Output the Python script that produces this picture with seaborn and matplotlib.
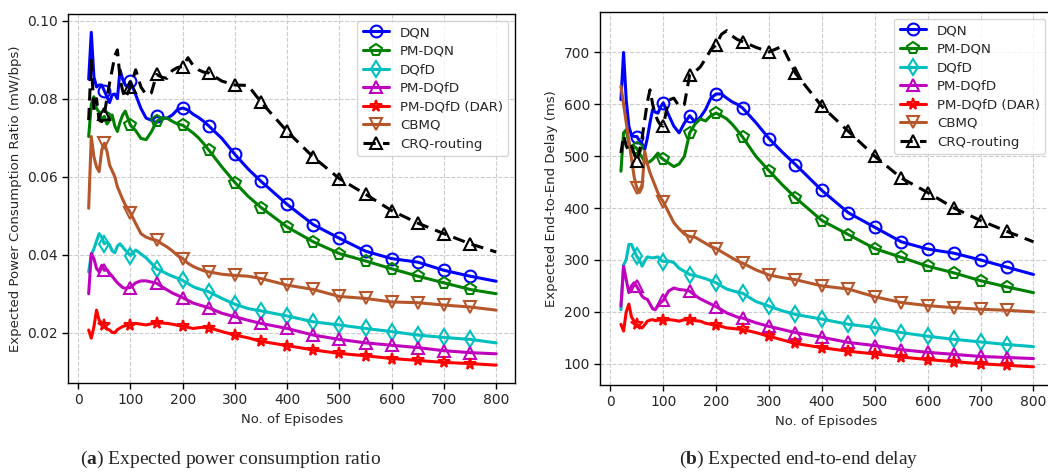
import numpy as np
import pandas as pd
import matplotlib
matplotlib.use("Agg")
import matplotlib.pyplot as plt
import seaborn as sns

# Episode grid shared by every curve
episodes = [20, 25, 30, 35, 40, 45, 50, 55, 60, 65, 70, 75, 80, 85, 90, 95, 100,
            110, 120, 130, 140, 150, 160, 170, 180, 190, 200, 210, 220, 230, 240, 250,
            275, 300, 325, 350, 400, 450, 500, 550, 600, 650, 700, 750, 800]
marker_episodes = [50, 100, 150, 200, 250, 300, 350, 400, 450, 500, 550, 600, 650, 700, 750]

labels = ["DQN", "PM-DQN", "DQfD", "PM-DQfD", "PM-DQfD (DAR)", "CBMQ", "CRQ-routing"]

# (a) Expected power consumption ratio (mW/bps)
power_dqn = [0.085, 0.097, 0.0856, 0.083, 0.0835, 0.0835, 0.082, 0.0805, 0.079, 0.081, 0.0812,
             0.080, 0.0874, 0.085, 0.0835, 0.083, 0.0844, 0.081, 0.0775, 0.075, 0.0745, 0.0755,
             0.075, 0.075, 0.0758, 0.0772, 0.0776, 0.0771, 0.076, 0.0752, 0.0742, 0.073,
             0.0698, 0.0657, 0.062, 0.0588, 0.0529, 0.0477, 0.0442, 0.0409, 0.039, 0.0381,
             0.036, 0.0345, 0.0332]
power_pm_dqn = [0.0703, 0.0785, 0.0805, 0.0775, 0.0765, 0.0745, 0.0755, 0.0735, 0.0745, 0.0758,
                0.073, 0.0716, 0.074, 0.0758, 0.0768, 0.075, 0.0732, 0.0718, 0.0698, 0.0695,
                0.0715, 0.0742, 0.075, 0.075, 0.0742, 0.0735, 0.0732, 0.0722, 0.0712, 0.070,
                0.0685, 0.0668, 0.0625, 0.0585, 0.055, 0.0521, 0.0471, 0.0433, 0.0403, 0.0384,
                0.0364, 0.0345, 0.0328, 0.0311, 0.0300]
power_dqfd = [0.0356, 0.040, 0.0415, 0.0435, 0.0454, 0.0445, 0.0428, 0.0432, 0.0425, 0.041,
              0.0405, 0.0422, 0.0428, 0.042, 0.0412, 0.0405, 0.0398, 0.0412, 0.0402, 0.0392,
              0.0378, 0.0364, 0.0358, 0.0351, 0.0345, 0.034, 0.0334, 0.0326, 0.0318, 0.0313,
              0.0309, 0.0305, 0.0288, 0.0273, 0.0262, 0.0256, 0.0243, 0.0228, 0.022, 0.0211,
              0.0203, 0.0194, 0.0188, 0.0183, 0.0174]
power_pm_dqfd = [0.030, 0.0403, 0.039, 0.0365, 0.0356, 0.0373, 0.036, 0.0362, 0.0352, 0.0345,
                 0.0336, 0.0328, 0.0322, 0.0316, 0.0314, 0.0315, 0.0316, 0.0328, 0.0333, 0.0333,
                 0.033, 0.0327, 0.0318, 0.031, 0.0302, 0.0296, 0.029, 0.0283, 0.0276, 0.0272,
                 0.0268, 0.0264, 0.025, 0.0241, 0.0232, 0.0224, 0.0211, 0.0194, 0.0183, 0.0174,
                 0.0168, 0.0162, 0.0154, 0.0149, 0.0146]
power_dar = [0.0207, 0.0186, 0.0215, 0.0258, 0.0232, 0.0225, 0.022, 0.021, 0.0207, 0.0201,
             0.020, 0.0208, 0.0212, 0.0216, 0.0218, 0.0221, 0.022, 0.0224, 0.0222, 0.022,
             0.0223, 0.0226, 0.0225, 0.0224, 0.0222, 0.0219, 0.0217, 0.0214, 0.0211, 0.0213,
             0.0214, 0.0213, 0.0203, 0.0194, 0.0187, 0.0178, 0.0167, 0.0156, 0.0147, 0.0141,
             0.0134, 0.0129, 0.0124, 0.0121, 0.0117]
power_cbmq = [0.0519, 0.0703, 0.0651, 0.0625, 0.0613, 0.0668, 0.0686, 0.0665, 0.063, 0.0615,
              0.060, 0.0574, 0.0558, 0.0542, 0.0528, 0.0518, 0.0507, 0.048, 0.0454, 0.0445,
              0.044, 0.0437, 0.0428, 0.042, 0.041, 0.0398, 0.039, 0.0378, 0.037, 0.0364,
              0.0359, 0.0356, 0.035, 0.0347, 0.0345, 0.0339, 0.0322, 0.0311, 0.0293, 0.0288,
              0.0279, 0.0277, 0.0271, 0.0266, 0.0258]
power_crq = [0.0745, 0.0899, 0.077, 0.080, 0.0745, 0.0741, 0.076, 0.0801, 0.084, 0.0874,
             0.091, 0.0925, 0.0852, 0.082, 0.0801, 0.0815, 0.083, 0.0874, 0.083, 0.081,
             0.0815, 0.0862, 0.0855, 0.0852, 0.0872, 0.088, 0.0882, 0.0905, 0.0885, 0.0874,
             0.0868, 0.0866, 0.0845, 0.0835, 0.0834, 0.0791, 0.0716, 0.065, 0.0595, 0.0555,
             0.0513, 0.0481, 0.0454, 0.0428, 0.0407]

# (b) Expected end-to-end delay (ms)
delay_dqn = [609, 700, 609, 558, 540, 538, 538, 530, 524, 513, 535, 565, 590, 585, 583, 595, 603,
             580, 558, 545, 564, 578, 566, 575, 590, 612, 620, 620, 612, 605, 600, 593,
             565, 534, 508, 484, 434, 391, 363, 335, 321, 313, 300, 286, 272]
delay_pm_dqn = [471, 545, 551, 526, 508, 519, 515, 505, 498, 490, 487, 490, 494, 500, 506, 498,
                494, 487, 480, 485, 500, 545, 562, 572, 568, 578, 583, 578, 572, 562, 550, 537,
                500, 472, 445, 420, 376, 349, 322, 305, 288, 275, 260, 248, 237]
delay_dqfd = [204, 290, 301, 330, 330, 318, 307, 300, 288, 298, 306, 305, 304, 305, 306, 300, 297,
              298, 295, 284, 278, 272, 270, 267, 264, 260, 256, 250, 244, 241, 238, 236,
              220, 211, 202, 195, 186, 176, 170, 160, 153, 147, 142, 137, 133]
delay_pm_dqfd = [211, 288, 262, 237, 250, 256, 249, 240, 230, 226, 224, 215, 206, 204, 212, 218,
                 222, 240, 246, 243, 242, 240, 232, 225, 220, 215, 210, 204, 198, 194, 190, 188,
                 179, 172, 166, 160, 151, 141, 135, 127, 122, 118, 114, 112, 110]
delay_dar = [176, 163, 200, 215, 190, 182, 176, 172, 169, 175, 182, 184, 185, 183, 184, 185, 184,
             185, 184, 182, 185, 184, 183, 182, 178, 176, 174, 172, 169, 168, 167, 166,
             160, 153, 146, 139, 131, 124, 119, 113, 108, 104, 100, 97, 94]
delay_cbmq = [635, 600, 565, 530, 495, 460, 439, 430, 440, 510, 485, 468, 455, 442, 429, 420, 412,
              392, 372, 360, 350, 345, 344, 338, 332, 326, 322, 316, 310, 304, 298, 294,
              281, 271, 266, 262, 250, 244, 229, 218, 212, 208, 205, 203, 200]
delay_crq = [506, 540, 520, 510, 519, 505, 490, 510, 535, 570, 605, 628, 600, 580, 568, 560, 558,
             608, 612, 596, 600, 657, 663, 672, 688, 705, 715, 735, 742, 732, 725, 721,
             710, 701, 712, 660, 596, 548, 500, 458, 430, 400, 376, 355, 335]

colors = ["#0000ff", "#008000", "#00bfbf", "#bf00bf", "#ff0000", "#b5572b", "#000000"]
markers = ["o", "p", "d", "^", "*", "v", "^"]
linestyles = ["-", "-", "-", "-", "-", "-", (0, (4, 2.4))]

sns.set_theme(style="ticks")
plt.rcParams["font.family"] = ["DejaVu Sans"]
plt.rcParams["mathtext.fontset"] = "custom"
plt.rcParams["mathtext.rm"] = "Liberation Serif"
plt.rcParams["mathtext.bf"] = "Liberation Serif:bold"

df_power = pd.DataFrame({"episode": episodes, "DQN": power_dqn, "PM-DQN": power_pm_dqn,
                         "DQfD": power_dqfd, "PM-DQfD": power_pm_dqfd,
                         "PM-DQfD (DAR)": power_dar, "CBMQ": power_cbmq,
                         "CRQ-routing": power_crq})
df_delay = pd.DataFrame({"episode": episodes, "DQN": delay_dqn, "PM-DQN": delay_pm_dqn,
                         "DQfD": delay_dqfd, "PM-DQfD": delay_pm_dqfd,
                         "PM-DQfD (DAR)": delay_dar, "CBMQ": delay_cbmq,
                         "CRQ-routing": delay_crq})

mark_idx = [i for i, e in enumerate(episodes) if e in marker_episodes]

fig = plt.figure(figsize=(10.48, 4.72), dpi=100)
ax1 = fig.add_axes([68.3 / 1048, 1 - 382.7 / 472, (515 - 68.3) / 1048, (382.7 - 14) / 472])
ax2 = fig.add_axes([600.3 / 1048, 1 - 385 / 472, (1052 - 600.3) / 1048, (385 - 12) / 472])


def draw(ax, df):
    for lab, c, m, ls in zip(labels, colors, markers, linestyles):
        sns.lineplot(data=df, x="episode", y=lab, ax=ax, color=c, linewidth=2.2,
                     linestyle=ls, marker=m, markevery=mark_idx, markersize=8.5,
                     markerfacecolor="none", markeredgecolor=c, markeredgewidth=1.5,
                     label=lab, estimator=None, sort=False)
    ax.grid(True, linestyle="--", color="#cccccc", linewidth=0.8)
    ax.set_xticks(range(0, 801, 100))
    ax.tick_params(labelsize=10, length=4, width=1, color="black")
    for s in ax.spines.values():
        s.set_color("black")
        s.set_linewidth(1.0)
    ax.set_xlabel("No. of Episodes", fontsize=9.5)
    leg = ax.legend(loc="upper right", fontsize=9.6, frameon=True, fancybox=True,
                    handlelength=2.0, borderaxespad=0.5, labelspacing=0.42)
    leg.get_frame().set_edgecolor("#cccccc")


draw(ax1, df_power)
ax1.set_xlim(-19, 836)
ax1.set_ylim(0.0072, 0.1017)
ax1.set_yticks([0.02, 0.04, 0.06, 0.08, 0.10])
ax1.set_yticklabels(["0.02", "0.04", "0.06", "0.08", "0.10"])
ax1.set_ylabel("Expected Power Consumption Ratio (mW/bps)", fontsize=9.5)

draw(ax2, df_delay)
ax2.set_xlim(-19, 835)
ax2.set_ylim(59, 778)
ax2.set_yticks(range(100, 701, 100))
ax2.set_ylabel("Expected End-to-End Delay (ms)", fontsize=9.5)

fig.text(231 / 1048, 0.027, r"($\mathbf{a}$) Expected power consumption ratio",
         family="Liberation Serif", fontsize=14, ha="center", va="center")
fig.text(799 / 1048, 0.027, r"($\mathbf{b}$) Expected end-to-end delay",
         family="Liberation Serif", fontsize=14, ha="center", va="center")

fig.savefig("out.png", dpi=100)
